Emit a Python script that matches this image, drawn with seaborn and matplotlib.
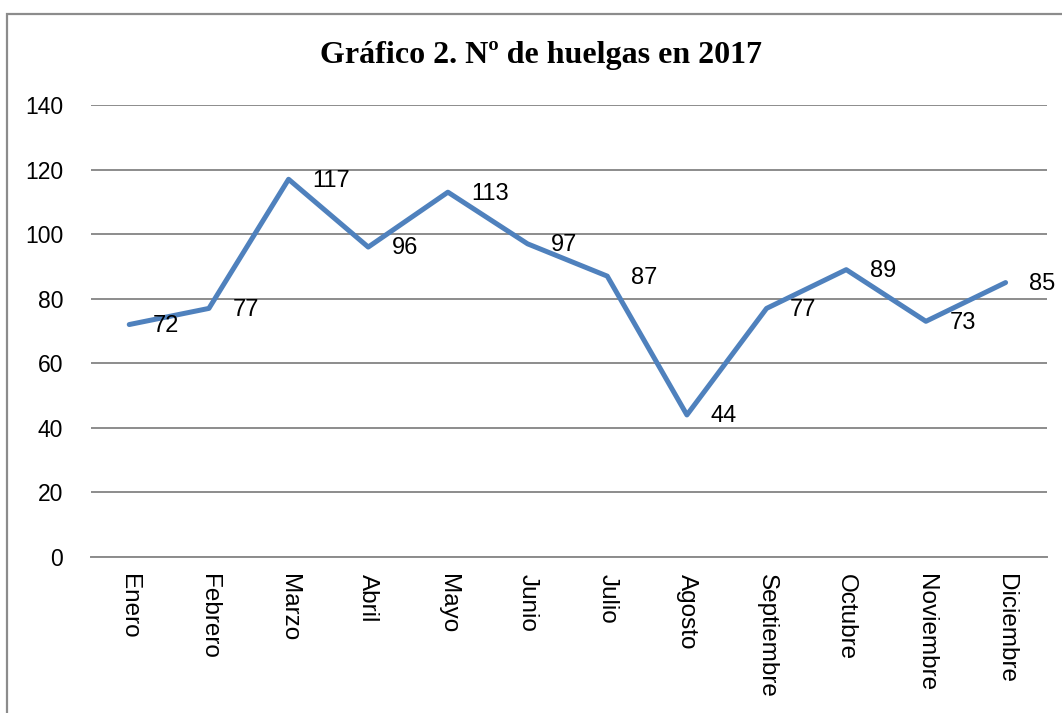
import pandas as pd
import seaborn as sns
import matplotlib.pyplot as plt
from matplotlib.patches import Rectangle

# ----------------------------
# DATA
# ----------------------------
meses = ["Enero", "Febrero", "Marzo", "Abril", "Mayo", "Junio", "Julio",
         "Agosto", "Septiembre", "Octubre", "Noviembre", "Diciembre"]
huelgas = [72, 77, 117, 96, 113, 97, 87, 44, 77, 89, 73, 85]
y_ticks = [0, 20, 40, 60, 80, 100, 120, 140]

df = pd.DataFrame({"mes": meses, "huelgas": huelgas})

# ----------------------------
# PLOT
# ----------------------------
sns.set_style("white")
plt.rcParams["font.family"] = ["Liberation Sans", "DejaVu Sans"]
plt.rcParams["text.color"] = "black"
plt.rcParams["xtick.color"] = "black"
plt.rcParams["ytick.color"] = "black"

fig = plt.figure(figsize=(10.62, 7.13), dpi=100)
ax = fig.add_axes([91 / 1062, 1 - 557 / 713, (1047 - 91) / 1062, (557 - 105) / 713])

sns.lineplot(data=df, x="mes", y="huelgas", sort=False, color="#4F81BD",
             linewidth=3.6, ax=ax)

for i, v in enumerate(huelgas):
    ax.annotate(str(v), (i, v), xytext=(17, -1), textcoords="offset points",
                ha="left", va="center", fontsize=17, color="black",
                annotation_clip=False)

ax.set_ylim(0, 140)
ax.set_xlim(-0.48, 11.52)
ax.set_yticks(y_ticks)
ax.yaxis.grid(True, color="#8c8c8c", linewidth=1.4)
ax.set_axisbelow(True)
ax.tick_params(axis="y", length=0, pad=20, labelsize=16.5)
ax.tick_params(axis="x", length=0, pad=12, labelsize=17.5)
plt.setp(ax.get_xticklabels(), rotation=-90, va="top", ha="center")
for s in ["left", "right", "top"]:
    ax.spines[s].set_visible(False)
ax.spines["bottom"].set_color("#8c8c8c")
ax.spines["bottom"].set_linewidth(1.4)
ax.set_xlabel("")
ax.set_ylabel("")

fig.text(541 / 1062, 1 - 56 / 713, "Gráfico 2. Nº de huelgas en 2017",
         ha="center", va="center", fontsize=23, fontweight="bold",
         color="black", family=["Liberation Serif", "DejaVu Serif"])

# outer chart frame (partly cut off like the reference)
fig.patches.append(Rectangle((6.5 / 1062, -0.1), 1.2, 1.1 - 14.5 / 713,
                             transform=fig.transFigure, fill=False,
                             edgecolor="#8c8c8c", linewidth=1.6))

fig.savefig("out.png", dpi=100)
